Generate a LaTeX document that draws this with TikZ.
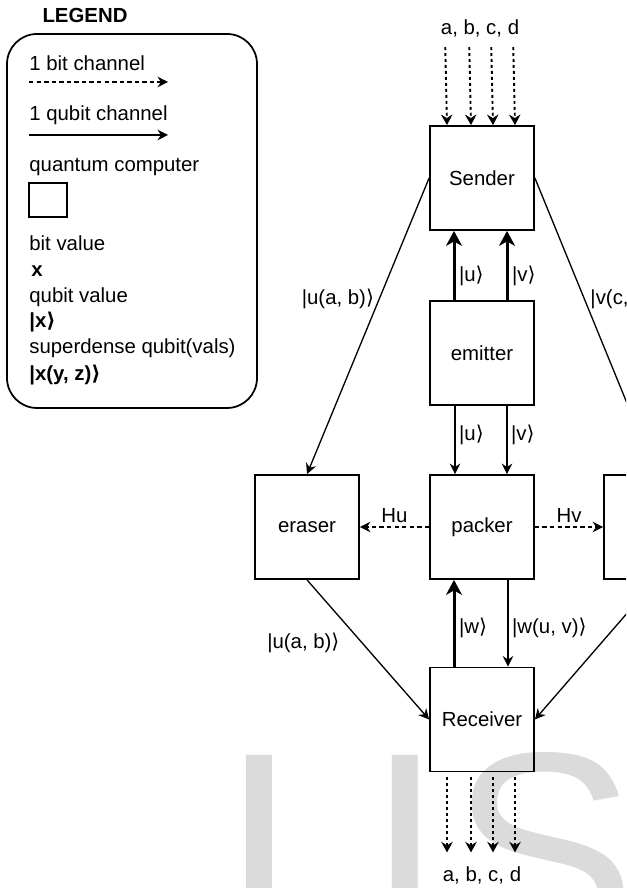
\documentclass[tikz,border=0pt]{standalone}
\usepackage{fontspec}
\setmainfont{Liberation Sans}
\newfontfamily\bracketfont{DejaVu Sans}
\usetikzlibrary{arrows.meta}

\newcommand{\qket}[1]{|#1{\bracketfont ⟩}}

\begin{document}
\begin{tikzpicture}[
  font=\fontsize{11.6}{13.9}\selectfont,
  qc/.style={draw, line width=1pt, minimum width=2.08cm, minimum height=2.08cm, inner sep=0pt},
  lbl/.style={inner sep=0pt, anchor=west},
  bit/.style={-{Stealth[length=6pt, width=6pt, inset=2pt]}, line width=0.75pt, dash pattern=on 2.5pt off 1.8pt},
  bits/.style={-{Stealth[length=6pt, width=6.5pt, inset=2pt]}, line width=1.1pt, dash pattern=on 1.7pt off 1.7pt},
  qubit/.style={-{Stealth[length=6pt, width=6pt, inset=2pt]}, line width=0.75pt},
  pair/.style={-{Stealth[length=8.5pt, width=9pt, inset=2.5pt]}, line width=1.7pt},
  wm/.style={text=black!14, font=\fontsize{159}{159}\selectfont, inner sep=0pt, anchor=base west}
]

\useasboundingbox (0,0) rectangle (12.52,17.76);
\clip (0,0) rectangle (12.52,17.76);

% Watermark letters (behind everything)
\node[wm] (wmL) at (4.46, -1.18) {L};
\node[wm] (wmI) at (7.32, -1.18) {I};
\node[wm] (wmS) at (9.00, -1.18) {S};

% Legend
\node[font=\fontsize{11.6}{13.9}\selectfont\bfseries] (legendtitle) at (1.70, 17.46) {LEGEND};
\node[draw, line width=1pt, rounded corners=0.6cm, minimum width=5cm, minimum height=7.48cm] (legend) at (2.64, 13.34) {};
\node[lbl] (bitname) at (0.58, 16.50) {1 bit channel};
\coordinate (bitA) at (0.58, 16.12);
\coordinate (bitB) at (3.36, 16.12);
\draw[bit] (bitA) -- (bitB);
\node[lbl] (qubitname) at (0.58, 15.46) {1 qubit channel};
\coordinate (qubitA) at (0.58, 15.06);
\coordinate (qubitB) at (3.36, 15.06);
\draw[qubit] (qubitA) -- (qubitB);
\node[lbl] (qcname) at (0.58, 14.42) {quantum computer};
\node[draw, line width=1pt, minimum width=0.76cm, minimum height=0.68cm] (qcsample) at (0.96, 13.76) {};
\node[lbl] (bitval) at (0.58, 12.90) {bit value};
\node[lbl, font=\fontsize{11.6}{13.9}\selectfont\bfseries] (bitex) at (0.62, 12.34) {x};
\node[lbl] (qubitval) at (0.58, 11.82) {qubit value};
\node[lbl, font=\fontsize{11.6}{13.9}\selectfont\bfseries] (qubitex) at (0.58, 11.32) {\qket{x}};
\node[lbl] (denseval) at (0.58, 10.80) {superdense qubit(vals)};
\node[lbl, font=\fontsize{11.6}{13.9}\selectfont\bfseries] (denseex) at (0.58, 10.26) {\qket{x(y, z)}};

% Quantum computers
\node[qc] (sender) at (9.64, 14.20) {Sender};
\node[qc] (emitter) at (9.64, 10.70) {emitter};
\node[qc] (packer) at (9.64, 7.22) {packer};
\node[qc] (eraser) at (6.14, 7.22) {eraser};
\node[qc] (vgate) at (13.12, 7.22) {};
\node[qc] (receiver) at (9.64, 3.37) {Receiver};

% Classical inputs and outputs
\node[inner sep=0pt] (bitsin) at (9.60, 17.20) {a, b, c, d};
\node[inner sep=0pt] (bitsout) at (9.64, 0.26) {a, b, c, d};
\foreach \dx in {-0.70, -0.22, 0.22, 0.66} {
  \draw[bits, shorten <=5.7pt] ([xshift=\dx cm]bitsin.south) -- ([xshift=\dx cm]sender.north);
  \draw[bits, shorten <=2.8pt, shorten >=7.7pt] ([xshift=\dx cm]receiver.south) -- ([xshift=\dx cm]bitsout.north);
}

% Entangled pairs
\draw[pair] ([xshift=-0.56cm]emitter.north) -- node[pos=0.35, right, inner sep=2pt] {\qket{u}} ([xshift=-0.56cm]sender.south);
\draw[pair] ([xshift=0.50cm]emitter.north) -- node[pos=0.35, right, inner sep=2pt] {\qket{v}} ([xshift=0.50cm]sender.south);
\draw[qubit] ([xshift=-0.54cm]emitter.south) -- node[pos=0.43, right, inner sep=2pt] {\qket{u}} ([xshift=-0.54cm]packer.north);
\draw[qubit] ([xshift=0.50cm]emitter.south) -- node[pos=0.43, right, inner sep=2pt] {\qket{v}} ([xshift=0.50cm]packer.north);
\draw[pair] ([xshift=-0.56cm]receiver.north) -- node[pos=0.45, right, inner sep=2pt] {\qket{w}} ([xshift=-0.56cm]packer.south);
\draw[qubit] ([xshift=0.52cm]packer.south) -- node[pos=0.55, right, inner sep=2pt] {\qket{w(u, v)}} ([xshift=0.52cm]receiver.north);

% Superdense qubits
\draw[qubit] (sender.west) -- node[pos=0.41, left, inner sep=2.5pt] {\qket{u(a, b)}} (eraser.north);
\draw[qubit] (sender.east) -- node[pos=0.41, right, inner sep=3pt] {\qket{v(c, d)}} (vgate.north);
\draw[qubit] (eraser.south) -- node[pos=0.45, left=0.32cm] {\qket{u(a, b)}} (receiver.west);
\draw[qubit] (vgate.south) -- (receiver.east);

% Measurement bits
\draw[bit] (packer.west) -- node[midway, above, inner sep=2pt] {Hu} (eraser.east);
\draw[bit] (packer.east) -- node[midway, above, inner sep=2pt] {Hv} (vgate.west);

\end{tikzpicture}
\end{document}
